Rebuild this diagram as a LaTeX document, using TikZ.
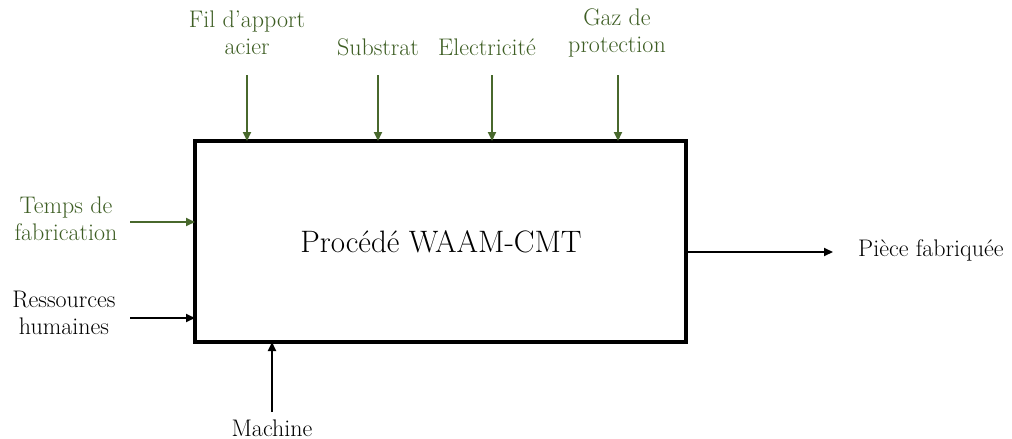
\documentclass[tikz,border=0pt]{standalone}
\usetikzlibrary{arrows.meta}
\definecolor{grn}{RGB}{72,104,44}
\definecolor{grntxt}{RGB}{62,94,36}
\begin{document}
\begin{tikzpicture}[x=1pt,y=-1pt,
  lbl/.style={font=\fontsize{24}{27}\selectfont, align=center, inner sep=0pt},
  glbl/.style={lbl, text=grntxt},
  arr/.style={line width=2pt, -{Triangle[length=9pt,width=8pt]}},
  garr/.style={arr, draw=grn}]
\useasboundingbox (0,0) rectangle (1012,439);
\node[draw, line width=3.4pt, minimum width=491pt, minimum height=201pt, inner sep=0pt] (box) at (440.5,241.5) {};
\node[font=\fontsize{31}{34}\selectfont, inner sep=0pt] (title) at (441,242) {Procédé WAAM-CMT};
% top inputs
\node[glbl] (fil) at (247,33) {Fil d'apport\\acier};
\node[glbl] (sub) at (378,47) {Substrat};
\node[glbl] (ele) at (487,47) {Electricité};
\node[glbl] (gaz) at (617,33) {Gaz de\\protection};
\coordinate (f1) at (247,75); \coordinate (f2) at (247,141);
\coordinate (s1) at (378,75); \coordinate (s2) at (378,141);
\coordinate (e1) at (492,75); \coordinate (e2) at (492,141);
\coordinate (g1) at (618,75); \coordinate (g2) at (618,141);
\draw[garr] (f1) -- (f2);
\draw[garr] (s1) -- (s2);
\draw[garr] (e1) -- (e2);
\draw[garr] (g1) -- (g2);
% left inputs
\node[glbl] (tps) at (66,219) {Temps de\\fabrication};
\node[lbl] (res) at (64,313) {Ressources\\humaines};
\coordinate (t1) at (130,222); \coordinate (t2) at (195,222);
\coordinate (r1) at (130,318); \coordinate (r2) at (195,318);
\draw[garr] (t1) -- (t2);
\draw[arr] (r1) -- (r2);
% bottom
\node[lbl] (mac) at (272,428) {Machine};
\coordinate (m1) at (272,412); \coordinate (m2) at (272,342);
\draw[arr] (m1) -- (m2);
% output
\node[lbl, anchor=west] (out) at (858,250) {Pièce fabriquée};
\coordinate (o1) at (686,252); \coordinate (o2) at (833,252);
\draw[arr] (o1) -- (o2);
\end{tikzpicture}
\end{document}
